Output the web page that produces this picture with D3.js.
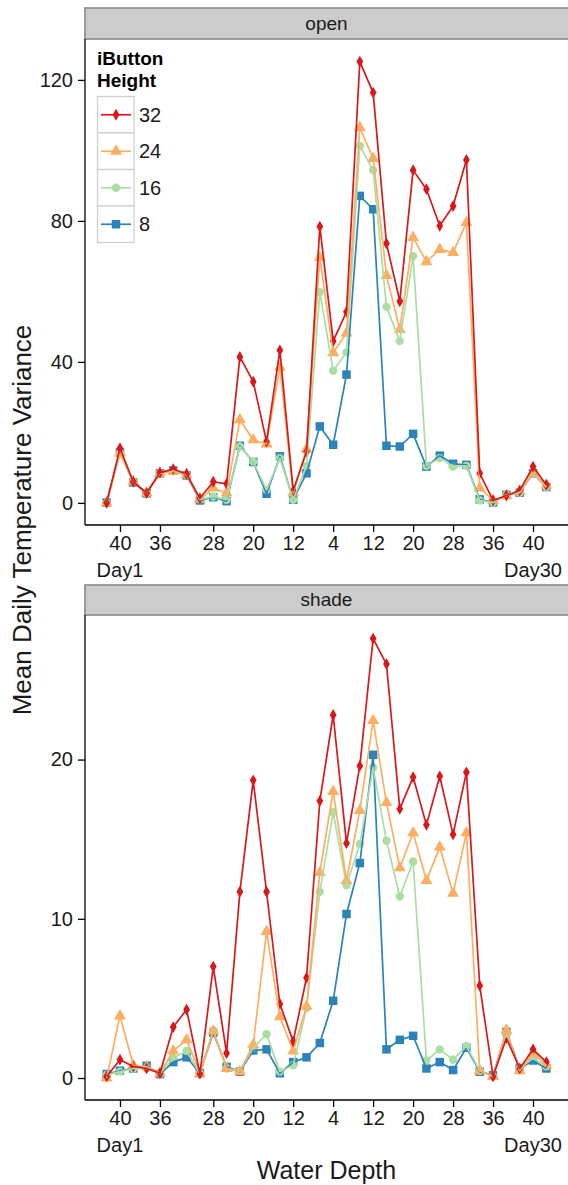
<!DOCTYPE html>
<html>
<head>
<meta charset="utf-8">
<script src="https://cdn.jsdelivr.net/npm/d3@7"></script>
<style>
html,body{margin:0;padding:0;background:#fff;}
svg{display:block;font-family:"Liberation Sans",Arial,sans-serif;}
</style>
</head>
<body>
<svg id="chart" width="568" height="1185"></svg>
<script>
// ---- data ----
const heights = ["32", "24", "16", "8"];
const colors = ["#d7191c", "#fdae61", "#abdda4", "#2b83ba"];
const shapes = ["diamond", "triangle", "circle", "square"];
const tickIndex = [1, 4, 8, 11, 14, 17, 20, 23, 26, 29, 32];
const tickLabels = ["40", "36", "28", "20", "12", "4", "12", "20", "28", "36", "40"];
const dayIndex = [1, 32];
const dayLabels = ["Day1", "Day30"];
const openTicks = [0, 40, 80, 120];
const shadeTicks = [0, 10, 20];

const open32 = [0, 15.5, 6, 2.8, 8.6, 9.6, 8.2, 1.3, 6, 5.4, 41.4, 34.4, 17.4, 43.3, 3.5, 14.5, 78.4, 45.9, 54.2, 125.2, 116.4, 73.6, 57.2, 94.4, 89, 78.6, 84.2, 97.3, 8.4, 0.7, 2.1, 3.5, 10.3, 5.1];
const open24 = [0, 14.2, 6, 2.8, 8.4, 9, 8, 1, 4.2, 2.8, 23.6, 17.9, 16.7, 38.5, 2.8, 15.3, 69.6, 42.6, 48.2, 106.5, 97.7, 64.5, 49.2, 75.3, 68.4, 71.9, 71, 79.5, 4.2, 0.7, 2, 3.3, 8.5, 5];
const open16 = [0, 14, 6, 2.8, 8.5, 9, 8, 1, 1.8, 0.9, 16, 11.7, 3.7, 12.7, 0.9, 10.5, 59.8, 37.5, 42.7, 101.3, 94.4, 55.6, 45.9, 70, 10.5, 12.7, 10.3, 10.5, 0.7, 0.1, 2.3, 2.9, 8.4, 4.5];
const open8 = [0.1, 14.3, 5.8, 2.7, 8.4, 9.2, 7.8, 0.7, 1.6, 0.5, 16.2, 11.6, 2.6, 13.2, 0.9, 8.4, 21.7, 16.5, 36.4, 87.1, 83.3, 16.2, 16, 19.6, 10.3, 13.4, 11.1, 10.8, 1.0, 0.1, 2.3, 2.9, 8.4, 4.5];

const shade32 = [0.1, 1.15, 0.73, 0.6, 0.3, 3.2, 4.3, 0.27, 7.0, 1.56, 11.7, 18.7, 11.7, 4.65, 2.3, 6.3, 17.4, 22.8, 14.75, 19.6, 27.6, 26, 16.9, 18.9, 15.9, 18.95, 15.3, 19.2, 5.8, 0.1, 2.5, 0.6, 1.8, 1.0];
const shade24 = [0, 3.9, 0.8, 0.7, 0.3, 1.7, 2.4, 0.3, 2.95, 0.6, 0.4, 2.1, 9.2, 3.85, 1.7, 4.5, 12.9, 18.0, 12.4, 16.8, 22.45, 17.3, 13.2, 15.4, 12.4, 14.5, 11.6, 15.4, 0.46, 0.1, 3.0, 0.46, 1.56, 0.8];
const shade16 = [0.2, 0.4, 0.6, 0.6, 0.3, 1.25, 1.7, 0.3, 3.0, 0.6, 0.45, 1.9, 2.75, 0.4, 0.8, 4.4, 11.7, 16.7, 12.1, 14.7, 19.5, 14.9, 11.4, 13.6, 1.1, 1.8, 1.15, 2.0, 0.46, 0.1, 2.7, 0.6, 1.25, 0.73];
const shade8 = [0.25, 0.46, 0.6, 0.77, 0.25, 1.0, 1.3, 0.3, 2.85, 0.7, 0.4, 1.73, 1.8, 0.3, 1.0, 1.3, 2.2, 4.85, 10.3, 13.5, 20.3, 1.8, 2.4, 2.65, 0.6, 1.0, 0.5, 1.9, 0.4, 0.17, 2.9, 0.6, 1.1, 0.6];

// ---- layout ----
const svg = d3.select("#chart");
const X0 = 85, X1 = 568;
const n = open32.length;
const x = d3.scaleLinear().domain([-1.625, n - 1 + 1.625]).range([X0, X1]);

const panels = [
  { name: "open", series: [open32, open24, open16, open8], ticks: openTicks,
    stripTop: 8, top: 39, bottom: 525, domain: [-6.27, 131.6], legend: true },
  { name: "shade", series: [shade32, shade24, shade16, shade8], ticks: shadeTicks,
    stripTop: 585, top: 615, bottom: 1100, domain: [-1.38, 29.08], legend: false }
];

function symbolPath(shape) {
  const m = { diamond: d3.symbolDiamond, triangle: d3.symbolTriangle, circle: d3.symbolCircle, square: d3.symbolSquare };
  const s = { diamond: 40, triangle: 62, circle: 55, square: 72 };
  return d3.symbol().type(m[shape]).size(s[shape])();
}

panels.forEach(p => {
  const y = d3.scaleLinear().domain(p.domain).range([p.bottom, p.top]);
  const g = svg.append("g");

  // strip
  g.append("rect").attr("x", X0).attr("y", p.stripTop).attr("width", X1 - X0 + 2)
    .attr("height", p.top - p.stripTop).attr("fill", "#cccccc").attr("stroke", "#8a8a8a").attr("stroke-width", 1.6);
  g.append("text").attr("x", (X0 + X1) / 2).attr("y", (p.stripTop + p.top) / 2 + 6)
    .attr("text-anchor", "middle").attr("font-size", 19).attr("fill", "#1a1a1a").text(p.name);

  // axes
  const yAxis = d3.axisLeft(y).tickValues(p.ticks).tickSize(7).tickPadding(5).tickFormat(d3.format("d"));
  const ya = g.append("g").attr("transform", `translate(${X0},0)`).call(yAxis);
  ya.select(".domain").attr("d", `M0,${p.top}V${p.bottom}`);
  const xAxis = d3.axisBottom(x).tickValues(tickIndex).tickSize(7).tickPadding(4)
    .tickFormat((d, i) => tickLabels[i]);
  const xa = g.append("g").attr("transform", `translate(0,${p.bottom})`).call(xAxis);
  xa.select(".domain").attr("d", `M${X0},0H${X1}`);
  [ya, xa].forEach(a => {
    a.selectAll(".domain").attr("stroke", "#000").attr("stroke-width", 1.3);
    a.selectAll(".tick line").attr("stroke", "#000").attr("stroke-width", 1.3);
    a.selectAll(".tick text").attr("font-size", 20).attr("fill", "#1a1a1a").attr("font-family", "Liberation Sans, Arial, sans-serif");
  });
  g.selectAll(".day").data(dayIndex).enter().append("text")
    .attr("x", d => x(d)).attr("y", p.bottom + 52)
    .attr("text-anchor", "middle").attr("font-size", 20).attr("fill", "#1a1a1a")
    .text((d, i) => dayLabels[i]);

  // points then lines (bottom to top: 8,16,24,32)
  const order = [3, 2, 1, 0];
  order.forEach(k => {
    g.append("g").selectAll("path").data(p.series[k]).enter().append("path")
      .attr("d", symbolPath(shapes[k]))
      .attr("transform", (d, i) => `translate(${x(i)},${y(d)})`)
      .attr("fill", colors[k]);
  });
  const line = d3.line().x((d, i) => x(i)).y(d => y(d));
  order.forEach(k => {
    g.append("path").datum(p.series[k]).attr("d", line)
      .attr("fill", "none").attr("stroke", colors[k]).attr("stroke-width", 1.7).attr("stroke-linejoin", "round");
  });

  if (p.legend) {
    const lg = g.append("g");
    lg.append("text").attr("x", 97).attr("y", 65).attr("font-size", 19).attr("font-weight", "bold").text("iButton");
    lg.append("text").attr("x", 97).attr("y", 87).attr("font-size", 19).attr("font-weight", "bold").text("Height");
    const kh = 36.5, ky = 96.5;
    heights.forEach((h, k) => {
      const yy = ky + k * kh;
      lg.append("rect").attr("x", 97.5).attr("y", yy).attr("width", 36.5).attr("height", kh)
        .attr("fill", "#fff").attr("stroke", "#cfcfcf").attr("stroke-width", 1.3);
      lg.append("line").attr("x1", 101).attr("x2", 131).attr("y1", yy + kh / 2).attr("y2", yy + kh / 2)
        .attr("stroke", colors[k]).attr("stroke-width", 1.7);
      lg.append("path").attr("d", symbolPath(shapes[k])).attr("transform", `translate(116,${yy + kh / 2})`).attr("fill", colors[k]);
      lg.append("text").attr("x", 139).attr("y", yy + kh / 2 + 7).attr("font-size", 20).attr("fill", "#1a1a1a").text(h);
    });
  }
});

// axis titles
svg.append("text").attr("transform", "translate(31,520) rotate(-90)").attr("text-anchor", "middle")
  .attr("font-size", 26).attr("fill", "#1a1a1a").text("Mean Daily Temperature Variance");
svg.append("text").attr("x", (X0 + X1) / 2).attr("y", 1179).attr("text-anchor", "middle")
  .attr("font-size", 25).attr("fill", "#1a1a1a").text("Water Depth");
</script>
</body>
</html>
